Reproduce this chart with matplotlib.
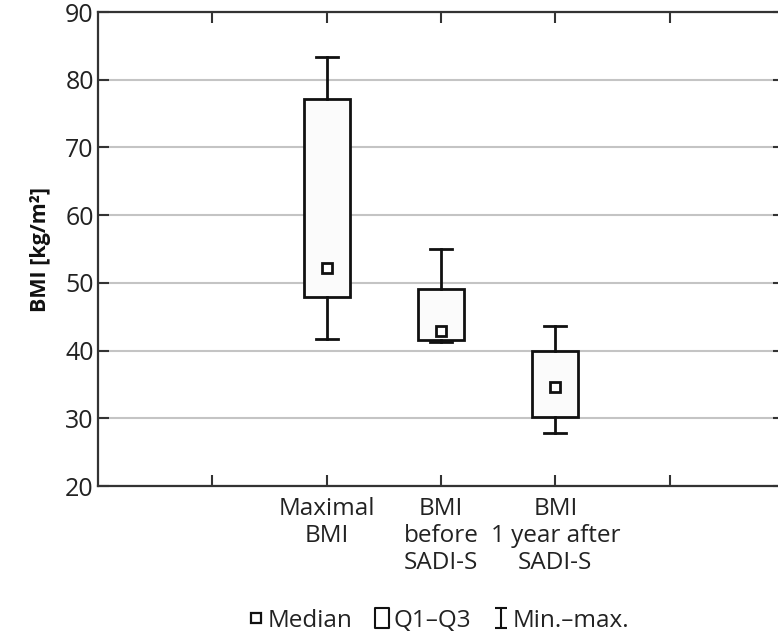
import matplotlib
matplotlib.use("Agg")
import matplotlib.pyplot as plt
from matplotlib.lines import Line2D
from matplotlib.path import Path

plt.rcParams['font.family'] = ['Open Sans', 'DejaVu Sans']

categories = ["Maximal\nBMI", "BMI\nbefore\nSADI-S", "BMI\n1 year after\nSADI-S"]
positions = [2, 3, 4]
minimum = [41.7, 41.3, 27.8]
q1 = [47.9, 41.6, 30.2]
median = [52.2, 42.9, 34.6]
q3 = [77.2, 49.1, 39.9]
maximum = [83.3, 55.0, 43.6]

ink = "#111111"
fig = plt.figure(figsize=(7.78, 6.33), dpi=100)
ax = fig.add_axes([0.126, 0.2322, 0.8817, 0.7488])

stats = [dict(med=m, q1=a, q3=b, whislo=lo, whishi=hi, label=c)
         for m, a, b, lo, hi, c in zip(median, q1, q3, minimum, maximum, categories)]
ax.bxp(stats, positions=positions, widths=0.4, showfliers=False, patch_artist=True,
       boxprops=dict(facecolor="#fbfbfb", edgecolor=ink, linewidth=2),
       whiskerprops=dict(color=ink, linewidth=2),
       capprops=dict(color=ink, linewidth=2),
       medianprops=dict(linewidth=0),
       capwidths=0.19, zorder=3)
ax.plot(positions, median, linestyle="none", marker="s", markersize=7,
        markerfacecolor="white", markeredgecolor=ink, markeredgewidth=2, zorder=4)

ax.set_xlim(0, 6)
ax.set_ylim(20, 90)
ax.set_xticks([1, 2, 3, 4, 5])
ax.set_xticklabels(["", categories[0], categories[1], categories[2], ""],
                   fontsize=17.5, color="#222222", linespacing=1.15)
ax.set_yticks(range(20, 91, 10))
ax.tick_params(axis="y", labelsize=18, colors="#222222")
ax.tick_params(direction="in", length=8, width=1.5, color="#333333",
               top=True, right=True, pad=8)
ax.tick_params(axis="y", pad=3)
ax.yaxis.grid(True, color="#c4c4c4", linewidth=1.5, zorder=0)
ax.set_axisbelow(True)
for s in ax.spines.values():
    s.set_linewidth(1.6)
    s.set_color("#333333")

ax.set_ylabel("BMI [kg/m²]", fontsize=15.5, fontweight="bold", color="#111111", labelpad=10)

ibeam = Path([(-0.6, 1), (0.6, 1), (0, 1), (0, -1), (-0.6, -1), (0.6, -1)],
             [Path.MOVETO, Path.LINETO, Path.MOVETO, Path.LINETO, Path.MOVETO, Path.LINETO])
rect = Path([(-0.7, -1), (0.7, -1), (0.7, 1), (-0.7, 1), (-0.7, -1)],
            [Path.MOVETO, Path.LINETO, Path.LINETO, Path.LINETO, Path.CLOSEPOLY])
handles = [
    Line2D([], [], linestyle="none", marker="s", markersize=7, markerfacecolor="white",
           markeredgecolor=ink, markeredgewidth=1.6),
    Line2D([], [], linestyle="none", marker=rect, markersize=15, markerfacecolor="white",
           markeredgecolor=ink, markeredgewidth=1.5),
    Line2D([], [], linestyle="none", marker=ibeam, markersize=15,
           markeredgecolor=ink, markeredgewidth=1.5),
]
fig.legend(handles, ["Median", "Q1–Q3", "Min.–max."], loc="center",
           bbox_to_anchor=(0.565, 0.019), ncol=3, frameon=False, fontsize=17.5,
           handlelength=0.5, handletextpad=0.2, columnspacing=1.0, labelcolor="#222222")

fig.savefig("out.png", dpi=100)
